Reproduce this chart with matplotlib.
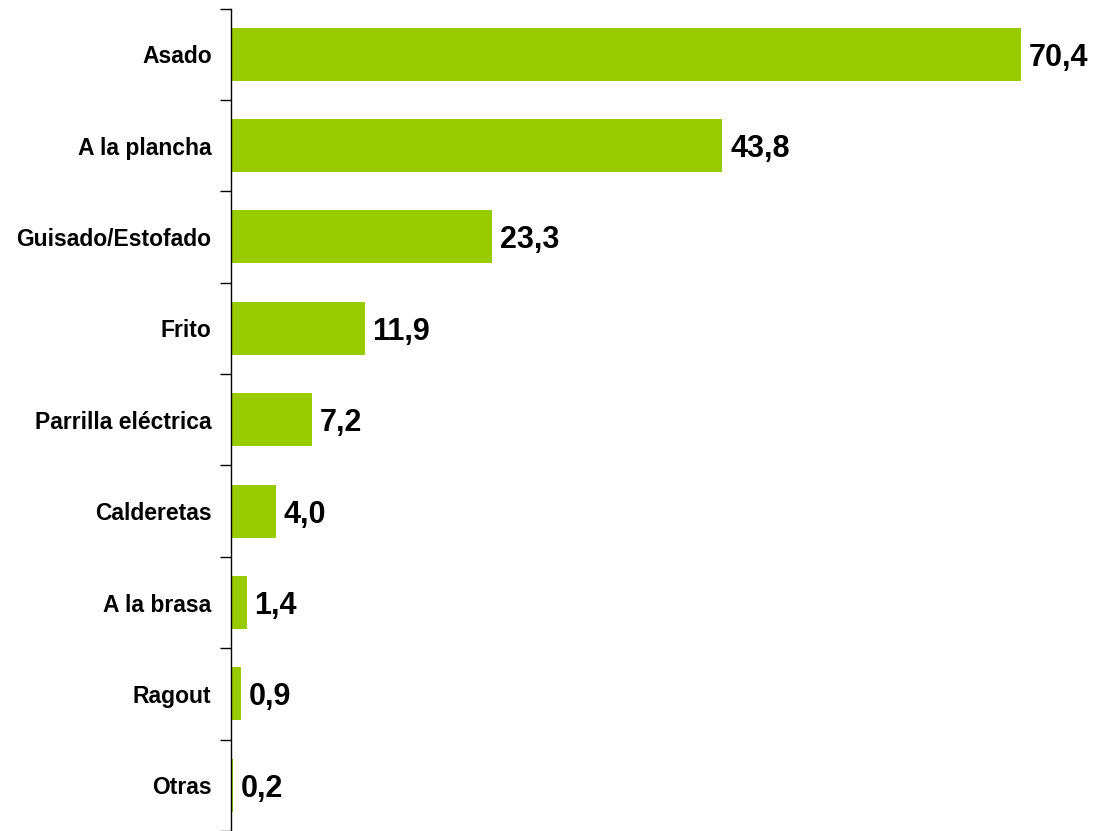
import matplotlib
matplotlib.use("Agg")
import matplotlib.pyplot as plt

plt.rcParams['font.family'] = ['Liberation Sans', 'DejaVu Sans']

# cooking methods and share (%)
metodos = ["Asado", "A la plancha", "Guisado/Estofado", "Frito",
           "Parrilla eléctrica", "Calderetas", "A la brasa", "Ragout", "Otras"]
valores = [70.4, 43.8, 23.3, 11.9, 7.2, 4.0, 1.4, 0.9, 0.2]

fig = plt.figure(figsize=(10.96, 8.31), dpi=100)
ax = fig.add_axes([231 / 1096, 0, 1 - 231 / 1096, 1 - 8.5 / 831])

pos = range(len(metodos))
ax.barh(pos, valores, height=0.58, color='#99CC00')

ax.set_ylim(len(metodos) - 0.5, -0.5)
ax.set_xlim(0, (1096 - 231) / 11.22)

# value labels next to each bar
for i, v in enumerate(valores):
    ax.text(v + 0.7, i, "{:.1f}".format(v).replace(".", ","),
            va='center_baseline', ha='left', fontsize=22, fontweight='bold')

ax.set_yticks(list(pos))
ax.set_yticklabels(metodos, fontsize=16.5, fontweight='bold')
ax.set_yticks([i - 0.5 for i in range(len(metodos) + 1)], minor=True)
ax.tick_params(axis='y', which='major', length=0, pad=14)
ax.tick_params(axis='y', which='minor', length=8, width=1)
ax.set_xticks([])

for s in ['top', 'right', 'bottom']:
    ax.spines[s].set_visible(False)
ax.spines['left'].set_linewidth(1)

plt.savefig('out.png', dpi=100)
